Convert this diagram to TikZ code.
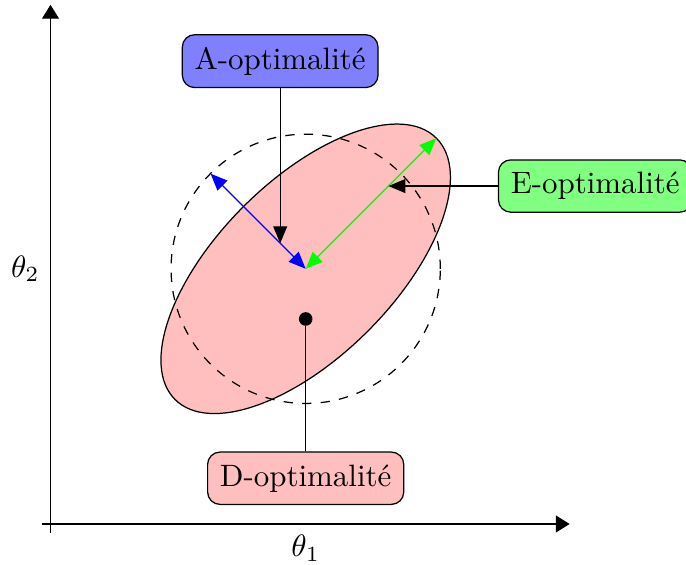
\documentclass[tikz,border=0pt]{standalone}
\usetikzlibrary{arrows.meta, calc}

\begin{document}
\begin{tikzpicture}[
    % Node styles
    critbox/.style={
        rectangle, rounded corners=4pt, draw=black, fill=#1,
        inner sep=4pt, align=center
    },
    critbox/.default=white,
    dot/.style={circle, fill=black, inner sep=0pt, minimum size=4.4pt},
    % Line styles
    axis/.style={-{Triangle[length=4.5pt, width=5.5pt]}, line width=0.4pt},
    arr/.style={-{Triangle[length=5.5pt, width=4.5pt]}, color=#1},
    arr/.default=black,
    darr/.style={
        {Triangle[length=5.5pt, width=4.5pt]}-{Triangle[length=5.5pt, width=4.5pt]},
        color=#1
    },
    darr/.default=black,
]

\useasboundingbox (-0.574,-0.466) rectangle (7.222,5.955);

% ═══════════════════════════════════════════════════════════════
% Axes
% ═══════════════════════════════════════════════════════════════

\draw[axis] (-0.1,0) -- (5.9,0) node[midway, below] (T1) {$\theta_1$};
\draw[axis] (0,-0.1) -- (0,5.9) node[midway, left] (T2) {$\theta_2$};

% ═══════════════════════════════════════════════════════════════
% Confidence ellipse and reference circle
% ═══════════════════════════════════════════════════════════════

\coordinate (C) at (2.9,2.9);

\draw[fill=red!25, rotate around={45:(C)}] (C) ellipse (2.1 and 1);
\draw[dashed] (C) circle (1.53);

\coordinate (Btip) at ($(C)+(135:1.53)$);
\coordinate (Gtip) at ($(C)+(45:2.1)$);
\coordinate (Aend) at ($(C)+(135:0.41)$);
\coordinate (Eend) at ($(C)+(45:1.33)$);

% Axes of the ellipse
\draw[darr=blue] (C) -- (Btip);
\draw[darr=green] (C) -- (Gtip);

% ═══════════════════════════════════════════════════════════════
% Criteria
% ═══════════════════════════════════════════════════════════════

\node[critbox=blue!50] (Aopt) at ($(Aend)+(0,2.07)$) {A-optimalité};
\node[critbox=green!50] (Eopt) at ($(Eend)+(2.35,0)$) {E-optimalité};
\node[critbox=red!25] (Dopt) at (2.9,0.52) {D-optimalité};
\node[dot] (Ddot) at (2.9,2.33) {};

\draw[arr] (Aopt) -- (Aend);
\draw[arr] (Eopt) -- (Eend);
\draw (Ddot) -- (Dopt);

\end{tikzpicture}
\end{document}
